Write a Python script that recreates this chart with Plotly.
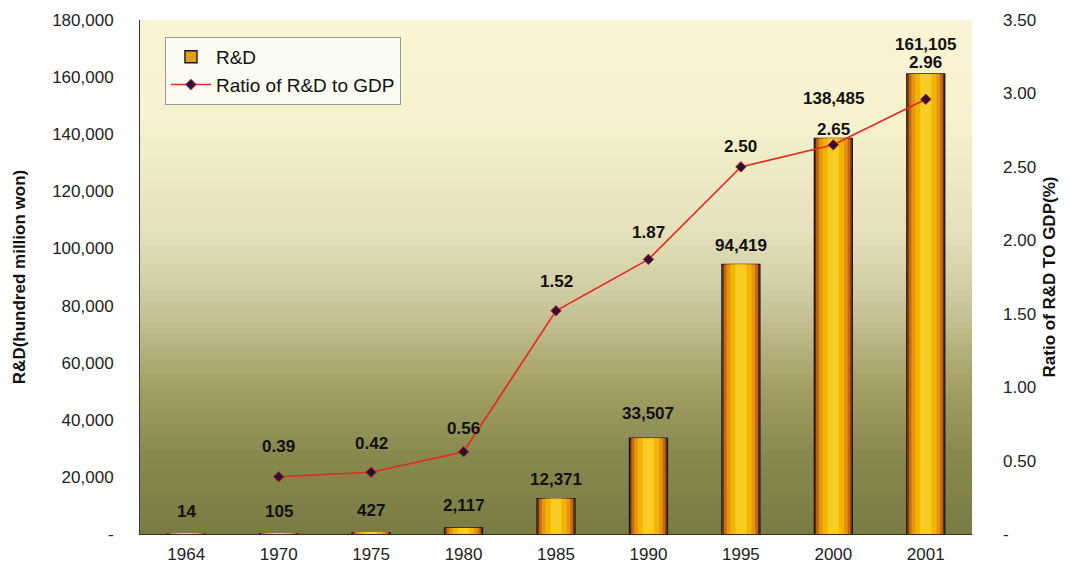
import plotly.graph_objects as go

years = ["1964", "1970", "1975", "1980", "1985", "1990", "1995", "2000", "2001"]
rd_values = [14, 105, 427, 2117, 12371, 33507, 94419, 138485, 161105]
ratio_years = ["1970", "1975", "1980", "1985", "1990", "1995", "2000", "2001"]
ratio_values = [0.39, 0.42, 0.56, 1.52, 1.87, 2.50, 2.65, 2.96]

left_ticks = [0, 20000, 40000, 60000, 80000, 100000, 120000, 140000, 160000, 180000]
left_ticktext = ["-", "20,000", "40,000", "60,000", "80,000", "100,000", "120,000", "140,000", "160,000", "180,000"]
right_ticks = [0, 0.5, 1.0, 1.5, 2.0, 2.5, 3.0, 3.5]
right_ticktext = ["-", "0.50", "1.00", "1.50", "2.00", "2.50", "3.00", "3.50"]

# label offsets (pixels above the mark) -- styling only
bar_label_shift = [22, 22, 22, 22, 19, 25, 19, 40, 29]
ratio_label_shift = [30, 29, 23, 29, 27, 20, 15, 37]

FONT = "Arial, Liberation Sans, sans-serif"

fig = go.Figure()

# Bars drawn as overlaid layers to imitate the shaded gold bars
# (width, fill, outline colour, outline width, in legend)
layers = [
    (0.41, "#e0a010", "#1a1030", 1.4, True),
    (0.40, "#5a3008", None, 0, False),
    (0.37, "#c8680c", None, 0, False),
    (0.31, "#e49410", None, 0, False),
    (0.23, "#f2b400", None, 0, False),
    (0.12, "#f8cc24", None, 0, False),
]
for w, col, lc, lw, show in layers:
    fig.add_trace(go.Bar(
        x=years, y=rd_values, width=w, name="R&D",
        marker=dict(color=col, line=dict(color=lc if lc else col, width=lw)),
        showlegend=show, yaxis="y", hoverinfo=None if show else "skip",
    ))

fig.add_trace(go.Scatter(
    x=ratio_years, y=ratio_values, name="Ratio of R&D to GDP", yaxis="y2",
    mode="lines+markers",
    line=dict(color="#e8281c", width=1.6),
    marker=dict(symbol="diamond", size=8, color="#2a0f3a", line=dict(color="#c0201a", width=1)),
))

annotations = []
for yr, v, s in zip(years, rd_values, bar_label_shift):
    annotations.append(dict(x=years.index(yr), y=v, xref="x", yref="y", text=f"<b>{v:,}</b>",
                            showarrow=False, yshift=s, yanchor="middle",
                            font=dict(family=FONT, size=17, color="#111")))
for yr, v, s in zip(ratio_years, ratio_values, ratio_label_shift):
    annotations.append(dict(x=years.index(yr), y=v, xref="x", yref="y2", text=f"<b>{v:.2f}</b>",
                            showarrow=False, yshift=s, yanchor="middle",
                            font=dict(family=FONT, size=17, color="#111")))

# background gradient strips in the plot area
stops = [
    (0.00, (122, 124, 68)),
    (0.15, (136, 136, 78)),
    (0.30, (166, 162, 104)),
    (0.45, (204, 200, 158)),
    (0.60, (230, 226, 188)),
    (0.80, (247, 241, 206)),
    (1.00, (250, 244, 212)),
]
def interp(t):
    for (t0, c0), (t1, c1) in zip(stops[:-1], stops[1:]):
        if t0 <= t <= t1:
            f = (t - t0) / (t1 - t0)
            return tuple(int(round(a + (b - a) * f)) for a, b in zip(c0, c1))
    return stops[-1][1]

shapes = []
n = 80
for i in range(n):
    y0 = i / n
    y1 = (i + 1) / n
    c = interp((y0 + y1) / 2)
    shapes.append(dict(type="rect", xref="paper", yref="paper", x0=0, x1=1, y0=y0, y1=min(1, y1 + 0.002),
                       fillcolor=f"rgb{c}", line=dict(width=0), layer="below"))

fig.update_layout(
    width=1062, height=562,
    margin=dict(l=132, r=98, t=12, b=36),
    paper_bgcolor="white",
    plot_bgcolor="rgba(0,0,0,0)",
    barmode="overlay",
    font=dict(family=FONT, size=17, color="#222"),
    shapes=shapes,
    annotations=annotations,
    xaxis=dict(type="category", range=[-0.5, 8.5], showgrid=False, ticks="", showline=True,
               automargin=False, ticklabelstandoff=5,
               linecolor="#333", linewidth=1, tickfont=dict(size=17, color="#222")),
    yaxis=dict(range=[0, 180000], tickvals=left_ticks, ticktext=left_ticktext, automargin=False,
               showgrid=False, zeroline=False, showline=True, linecolor="#333", linewidth=1,
               ticks="", ticklabelstandoff=22, tickfont=dict(size=17, color="#222"),
               title=dict(text="<b>R&D(hundred million won)</b>", font=dict(size=17, color="#111"), standoff=22)),
    yaxis2=dict(range=[0, 3.5], tickvals=right_ticks, ticktext=right_ticktext, overlaying="y",
                side="right", showgrid=False, zeroline=False, showline=False, ticks="", automargin=False,
                ticklabelstandoff=30, tickfont=dict(size=17, color="#222"),
                title=dict(text="<b>Ratio of R&D TO GDP(%)</b>", font=dict(size=17, color="#111"), standoff=8)),
    legend=dict(x=0.03, y=0.967, xanchor="left", yanchor="top", bgcolor="#fcfbf2",
                bordercolor="#999", borderwidth=1, font=dict(size=19, color="#111"),
                itemwidth=40, tracegroupgap=2),
)

fig.write_html("out.html")
